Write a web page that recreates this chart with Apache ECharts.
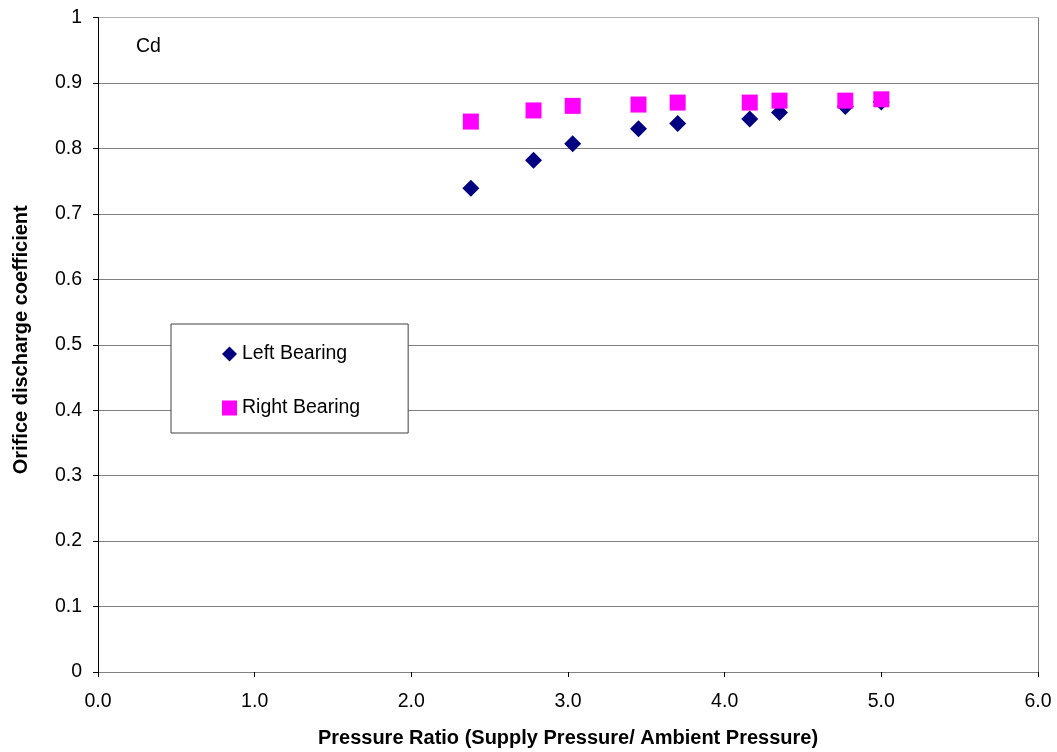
<!DOCTYPE html>
<html>
<head>
<meta charset="utf-8">
<title>Orifice discharge coefficient</title>
<script src="https://cdn.jsdelivr.net/npm/echarts@6/dist/echarts.min.js"></script>
<style>
  html, body { margin: 0; padding: 0; background: #ffffff; }
  #chart { width: 1057px; height: 752px; }
</style>
</head>
<body>
<div id="chart"></div>
<script>
// Pressure ratio (supply / ambient) for each test point
const pressureRatio = [2.38, 2.78, 3.03, 3.45, 3.70, 4.16, 4.35, 4.77, 5.00];
// Measured orifice discharge coefficients
const leftBearing  = [0.739, 0.782, 0.807, 0.830, 0.838, 0.845, 0.855, 0.864, 0.871];
const rightBearing = [0.841, 0.858, 0.865, 0.867, 0.870, 0.870, 0.873, 0.873, 0.875];

const seriesNames = ['Left Bearing', 'Right Bearing'];
const xTitle = 'Pressure Ratio (Supply Pressure/ Ambient Pressure)';
const yTitle = 'Orifice discharge coefficient';
const cornerLabel = 'Cd';

const FONT = '"Liberation Sans", Arial, sans-serif';

function pairs(xs, ys) {
  return xs.map((x, i) => [x, ys[i]]);
}

// grid lines: gray for 0.1..0.9, lighter for the top border at 1.0
const yLineColors = [];
for (let i = 0; i <= 10; i++) yLineColors.push(i === 10 ? '#b4b4b4' : '#808080');
// only the right-hand border of the plot is drawn on the x axis
const xLineColors = [];
for (let i = 0; i <= 6; i++) xLineColors.push(i === 6 ? '#808080' : 'rgba(0,0,0,0)');

const chart = echarts.init(document.getElementById('chart'), null, { renderer: 'canvas' });

chart.setOption({
  backgroundColor: '#ffffff',
  animation: false,
  textStyle: { fontFamily: FONT, color: '#000' },
  grid: { left: 98, right: 19, top: 17.5, bottom: 80, containLabel: false, outerBoundsMode: 'none' },
  xAxis: {
    type: 'value',
    min: 0, max: 6, interval: 1,
    name: xTitle,
    nameLocation: 'middle',
    nameGap: 56,
    nameTextStyle: { fontFamily: FONT, fontSize: 20, fontWeight: 'bold', color: '#000' },
    axisLine: { show: true, onZero: false, lineStyle: { color: '#808080', width: 1 } },
    axisTick: { show: true, inside: false, length: 5, lineStyle: { color: '#000' } },
    axisLabel: {
      margin: 20, fontSize: 19.5, color: '#000', fontFamily: FONT,
      formatter: v => v.toFixed(1)
    },
    splitLine: { show: true, lineStyle: { color: xLineColors, width: 1 } }
  },
  yAxis: {
    type: 'value',
    min: 0, max: 1, interval: 0.1,
    name: yTitle,
    nameLocation: 'middle',
    nameGap: 67,
    nameTextStyle: {
      fontFamily: FONT, fontSize: 20, fontWeight: 'bold', color: '#000',
      padding: [0, 0, 0, 10]
    },
    axisLine: { show: true, lineStyle: { color: '#000', width: 1 } },
    axisTick: { show: true, inside: false, length: 5, lineStyle: { color: '#000' } },
    axisLabel: {
      margin: 16, fontSize: 19.5, color: '#000', fontFamily: FONT,
      formatter: v => {
        const r = Math.round(v * 10) / 10;
        return Number.isInteger(r) ? String(r) : r.toFixed(1);
      }
    },
    splitLine: { show: true, lineStyle: { color: yLineColors, width: 1 } }
  },
  legend: {
    orient: 'vertical',
    left: 171, top: 324,
    padding: [20, 48, 15, 51],
    itemGap: 34,
    itemWidth: 15, itemHeight: 15,
    backgroundColor: '#ffffff',
    borderColor: '#404040',
    borderWidth: 1,
    textStyle: { fontFamily: FONT, fontSize: 19.5, color: '#000', lineHeight: 16 },
    data: [
      { name: seriesNames[0], icon: 'diamond' },
      { name: seriesNames[1], icon: 'rect' }
    ]
  },
  graphic: [{
    type: 'text',
    left: 136, top: 37,
    style: { text: cornerLabel, font: '19.5px ' + FONT, fill: '#000' }
  }],
  series: [
    {
      name: seriesNames[0],
      type: 'scatter',
      symbol: 'diamond',
      symbolSize: 17,
      itemStyle: { color: '#000080', opacity: 1 },
      data: pairs(pressureRatio, leftBearing),
      z: 2
    },
    {
      name: seriesNames[1],
      type: 'scatter',
      symbol: 'rect',
      symbolSize: 16,
      itemStyle: { color: '#ff00ff', opacity: 1 },
      data: pairs(pressureRatio, rightBearing),
      z: 3
    }
  ]
});
</script>
</body>
</html>
